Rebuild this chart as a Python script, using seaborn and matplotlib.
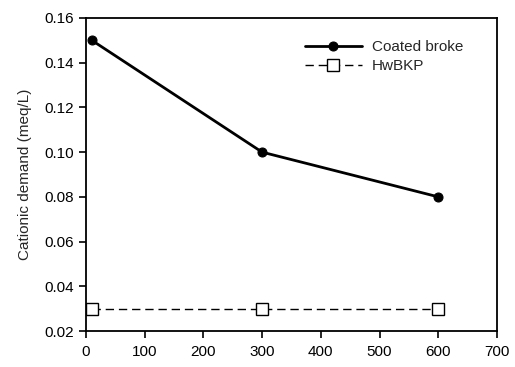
import pandas as pd
import numpy as np
import matplotlib.pyplot as plt
import seaborn as sns

# data
time_x = [10, 300, 600]
coated_broke = [0.15, 0.10, 0.08]
hwbkp = [0.03, 0.03, 0.03]
y_ticks = [0.02, 0.04, 0.06, 0.08, 0.10, 0.12, 0.14, 0.16]
x_ticks = [0, 100, 200, 300, 400, 500, 600, 700]

sns.set_style("ticks")
plt.rcParams['font.family'] = ['Liberation Sans', 'DejaVu Sans']

fig = plt.figure(figsize=(5.15, 3.67), dpi=100)
ax = fig.add_axes([0.167, 0.098, 0.798, 0.853])

sns.lineplot(x=time_x, y=coated_broke, ax=ax, color='black', linewidth=2,
             marker='o', markersize=6.5, markeredgecolor='black', label='Coated broke')
sns.lineplot(x=time_x, y=hwbkp, ax=ax, color='black', linewidth=1, linestyle='--',
             marker='s', markersize=8.5, markerfacecolor='white', markeredgecolor='black',
             markeredgewidth=1, label='HwBKP')
ax.lines[1].set_dashes([6, 3.5])

ax.set_xlim(0, 700)
ax.set_ylim(0.02, 0.16)
ax.set_xticks(x_ticks)
ax.set_yticks(y_ticks)
ax.set_yticklabels([f'{v:.2f}' for v in y_ticks])
ax.tick_params(direction='out', length=5, width=1.2, labelsize=11, colors='black')
ax.tick_params(axis='x', pad=5)
ax.set_ylabel('Cationic demand (meq/L)', fontsize=11, labelpad=9)
ax.set_xlabel('')
for s in ax.spines.values():
    s.set_linewidth(1.3)
    s.set_color('black')

leg = ax.legend(loc='upper left', frameon=False, fontsize=11, handlelength=3.7,
                handletextpad=0.65, labelspacing=0.35, borderpad=0, borderaxespad=0,
                bbox_to_anchor=(0.533, 0.93))
for h in leg.get_lines():
    if h.get_linestyle() == '--':
        h.set_dashes([6, 3.5])

fig.savefig('out.png', dpi=100)
